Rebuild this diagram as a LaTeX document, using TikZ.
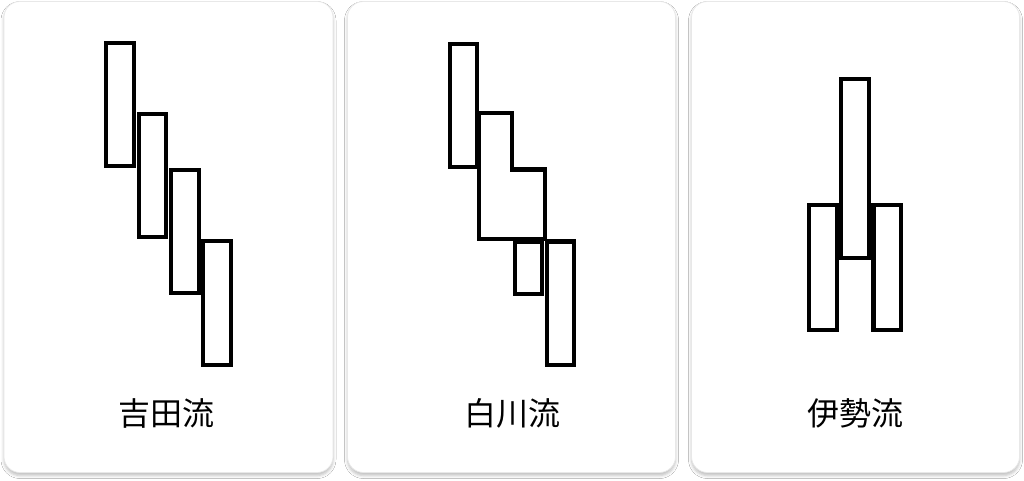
\documentclass[tikz,border=0pt]{standalone}
\usepackage{fontspec}
\newfontfamily\cjk{Noto Sans CJK JP}
\usetikzlibrary{shadows.blur}
\begin{document}
\begin{tikzpicture}[x=1pt,y=-1pt,
  card/.style={draw=black!9, line width=0.7pt, fill=white, rounded corners=16pt,
    blur shadow={shadow xshift=0pt, shadow yshift=-3pt, shadow blur radius=3pt, shadow opacity=25}},
  bar/.style={draw=black, line width=4.3pt, line join=miter},
  lbl/.style={font=\cjk\fontsize{32}{38}\selectfont, inner sep=0pt, anchor=center}]
\useasboundingbox (0,0) rectangle (1024,481);
\fill[white] (0,0) rectangle (1024,481);
% cards
\path[card] (4,1.5) rectangle (333,472.5);
\path[card] (347.5,1.5) rectangle (675.5,472.5);
\path[card] (691.5,1.5) rectangle (1019.5,472.5);
% panel 1: Yoshida
\draw[bar] (106.3,42.7) rectangle (134.2,165.7);
\draw[bar] (138.8,114) rectangle (165.7,237);
\draw[bar] (171,170) rectangle (199,293);
\draw[bar] (203,241.2) rectangle (231,364.8);
% panel 2: Shirakawa
\draw[bar] (449.8,43.7) rectangle (477.3,167);
\draw[bar] (478.8,112.7) -- (512,112.7) -- (512,169.5) -- (545.3,169.5) -- (545.3,239.3) -- (478.8,239.3) -- cycle;
\draw[bar] (514.8,241.8) rectangle (542.2,294);
\draw[bar] (546.8,241.5) rectangle (574,364.7);
% panel 3: Ise
\draw[bar] (841.3,78.7) rectangle (869.3,258.3);
\draw[bar] (809.3,205.3) rectangle (837.2,330);
\draw[bar] (873.4,205.3) rectangle (901.3,330);
% labels
\node[lbl] (l1) at (166,413) {吉田流};
\node[lbl] (l2) at (512.5,413) {白川流};
\node[lbl] (l3) at (855,413) {伊勢流};
\end{tikzpicture}
\end{document}
